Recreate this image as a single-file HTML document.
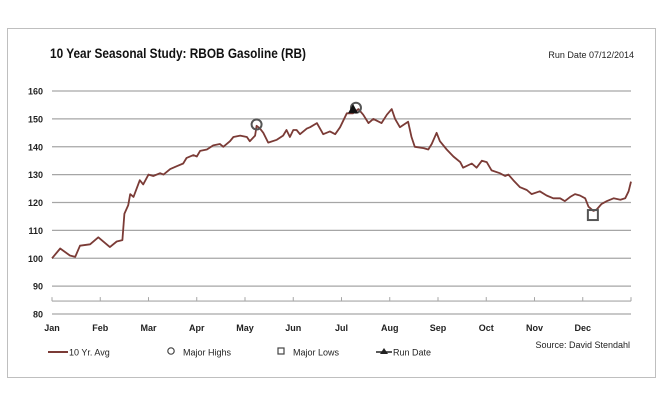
<!DOCTYPE html>
<html><head><meta charset="utf-8"><style>
html,body{margin:0;padding:0;background:#fff;}
svg{display:block;font-family:"Liberation Sans",sans-serif;}
</style></head><body>
<svg id="chart" width="665" height="408" viewBox="0 0 665 408">
<rect x="7.5" y="28.5" width="648" height="349" fill="#fff" stroke="#bfbfbf"/>
<text x="50" y="58" font-size="14" font-weight="bold" fill="#111" textLength="256" lengthAdjust="spacingAndGlyphs">10 Year Seasonal Study: RBOB Gasoline (RB)</text>
<text x="634" y="58" font-size="9" text-anchor="end" fill="#222">Run Date 07/12/2014</text>
<g id="grid"></g><g id="yticks"></g><g id="xaxis"></g>
<path id="series" fill="none" stroke="#7b3b36" stroke-width="1.8" stroke-linejoin="round"/>
<g id="markers"></g>
<g>
<line x1="48" y1="352" x2="68" y2="352" stroke="#7b3b36" stroke-width="2"/>
<text x="69" y="355.5" font-size="9" fill="#222">10 Yr. Avg</text>
<circle cx="171" cy="351" r="3.2" fill="none" stroke="#444" stroke-width="1.2"/>
<text x="183" y="355.5" font-size="9" fill="#222">Major Highs</text>
<rect x="278" y="348" width="6" height="6" fill="none" stroke="#444" stroke-width="1.2"/>
<text x="293" y="355.5" font-size="9" fill="#222">Major Lows</text>
<line x1="376" y1="352" x2="392" y2="352" stroke="#222" stroke-width="1.5"/>
<path d="M384,348 L388,354 L380,354 Z" fill="#222"/>
<text x="393" y="355.5" font-size="9" fill="#222">Run Date</text>
</g>
<text x="630" y="348" font-size="9" text-anchor="end" fill="#222">Source: David Stendahl</text>
</svg>
<script>
const monthLabels=["Jan","Feb","Mar","Apr","May","Jun","Jul","Aug","Sep","Oct","Nov","Dec"];
const yTickValues=[80,90,100,110,120,130,140,150,160];
const seriesMonths=[0,0.17,0.37,0.48,0.58,0.79,0.96,1.2,1.34,1.46,1.5,1.58,1.62,1.69,1.82,1.89,2,2.1,2.24,2.31,2.45,2.58,2.72,2.79,2.93,3,3.07,3.21,3.34,3.48,3.55,3.69,3.76,3.9,4.04,4.1,4.21,4.24,4.31,4.38,4.48,4.66,4.79,4.86,4.93,5,5.07,5.14,5.28,5.35,5.49,5.62,5.76,5.87,5.97,6.11,6.24,6.35,6.45,6.56,6.66,6.83,6.94,7.04,7.11,7.21,7.38,7.45,7.52,7.7,7.8,7.87,7.97,8.04,8.18,8.32,8.46,8.52,8.7,8.8,8.91,9.01,9.11,9.28,9.39,9.46,9.56,9.7,9.84,9.94,10.11,10.25,10.39,10.53,10.63,10.74,10.84,10.94,11.05,11.12,11.22,11.29,11.39,11.5,11.64,11.78,11.88,11.95,12];
const seriesValues=[100,103.5,101,100.5,104.5,105,107.5,104,106,106.5,116,119,123,122,128,126.5,130,129.5,130.5,130,132,133,134,136,137,136.5,138.5,139,140.5,141,140,142,143.5,144,143.5,142,144,147.5,146.5,145,141.5,142.5,144,146,143.5,146,146,144.5,146.5,147,148.5,144.5,145.5,144.5,147,152,152,153.5,151.5,148.5,150,148.5,151.5,153.5,150,147,149,143.5,140,139.5,139,141,145,142,139,136.5,134.5,132.5,134,132.5,135,134.5,131.5,130.5,129.5,130,128,125.5,124.5,123,124,122.5,121.5,121.5,120.5,122,123,122.5,121.5,118.5,117,117.5,119.5,120.5,121.5,121,121.5,124,127.5];
const highMonths=[4.24,6.3];
const highValues=[148,154];
const lowMonths=[11.21];
const lowValues=[115.5];
const runMonths=[6.24];
const runValues=[153.5];

const X0=52,X1=631,Y160=91,Y80=314;
const xs=m=>X0+m*(X1-X0)/12;
const ys=v=>Y80-(v-80)*(Y80-Y160)/80;
const NS="http://www.w3.org/2000/svg";
function mk(t,a,p){const e=document.createElementNS(NS,t);for(const k in a)e.setAttribute(k,a[k]);p.appendChild(e);return e;}
const grid=document.getElementById('grid'),yt=document.getElementById('yticks'),xa=document.getElementById('xaxis');
yTickValues.forEach(v=>{
  const l=mk('line',{x1:X0,x2:X1,y1:ys(v),y2:ys(v),stroke:'#a6a6a6','stroke-width':1.2},grid);
  
  
  const t=mk('text',{x:43,y:ys(v)+3.5,'font-size':9,'font-weight':'bold','text-anchor':'end',fill:'#222'},yt);
  t.textContent=v;
  
  
});
const ay=ys(85)+1;
const al=mk('line',{x1:X0,x2:X1,y1:ay,y2:ay,stroke:'#a6a6a6','stroke-width':1.2},xa);


for(let i=0;i<=12;i++){
  const tk=mk('line',{x1:xs(i),x2:xs(i),y1:ay-4,y2:ay,stroke:'#a6a6a6'},xa);
  
  
}
monthLabels.forEach((m,i)=>{
  const t=mk('text',{x:xs(i),y:331,'font-size':9,'font-weight':'bold','text-anchor':'middle',fill:'#222'},xa);
  t.textContent=m;
  
  
});
document.getElementById('series').setAttribute('d',seriesMonths.map((m,i)=>(i?'L':'M')+xs(m).toFixed(1)+','+ys(seriesValues[i]).toFixed(1)).join(''));
const mg=document.getElementById('markers');
highMonths.forEach((m,i)=>{
  const c=mk('circle',{cx:xs(m),cy:ys(highValues[i]),r:5,fill:'none',stroke:'#555','stroke-width':2},mg);
  
  
});
lowMonths.forEach((m,i)=>{
  const r=mk('rect',{x:xs(m)-5,y:ys(lowValues[i])-5,width:10,height:10,fill:'none',stroke:'#555','stroke-width':2},mg);
  
  
});
runMonths.forEach((m,i)=>{
  const x=xs(m),y=ys(runValues[i]);
  const p=mk('path',{d:`M${x},${y-5} L${x+5},${y+4} L${x-5},${y+4} Z`,fill:'#111'},mg);
  
  
});
</script>
</body></html>
